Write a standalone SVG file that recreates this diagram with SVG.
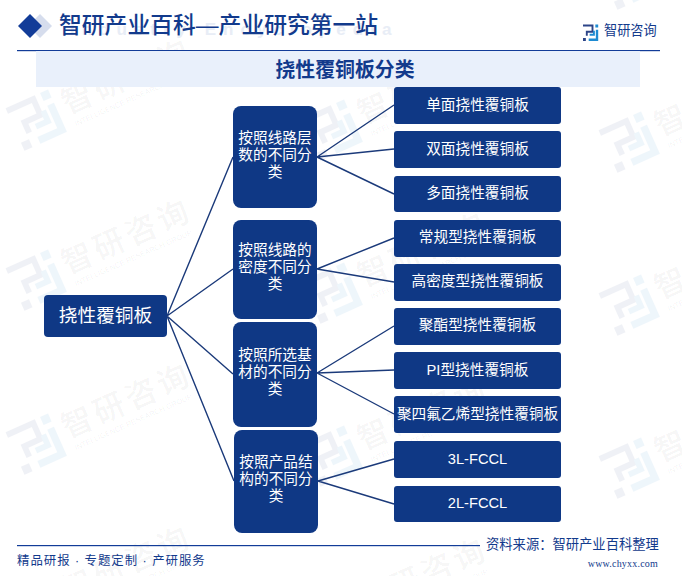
<svg xmlns="http://www.w3.org/2000/svg" width="682" height="576" viewBox="0 0 682 576">
<style>
text{font-family:"Liberation Sans","Noto Sans CJK SC",sans-serif}
.n{fill:#0F3885}
.t{fill:#fff;font-size:14.67px;text-anchor:middle}
.c{fill:none;stroke:#1B3A7A;stroke-width:1.4}
.h{fill:#123A8C}
.wt{font-size:31px;fill:#000;fill-opacity:.055;letter-spacing:3.8px;font-weight:500}
.we{font-size:7.5px;fill:#000;fill-opacity:.055}
.ld{fill:#2C4488}
.ll{fill:#1E8BD2}
</style>
<defs>
<g id="mark">
<path class="ld" d="M0 0H11V8H5V11H3V6H9V2H0ZM0 13h3v3H0z"/>
<path class="ll" d="M13 0h3v3h-3zM13.500 5H16V16H6V13.500H13.500ZM7 9h3.500V6H12.500V11H7Z"/>
</g>
<g id="wm">
<g transform="rotate(-24)">
<use href="#mark" transform="translate(-23 -23) scale(2.9)" opacity=".07"/>
<text class="wt" x="31" y="8">智研咨询</text>
<text class="we" x="34" y="22">INTELLIGENCE RESEARCH GROUP</text>
</g>
</g>
</defs>
<rect width="682" height="576" fill="#fff"/>
<g id="watermarks">
<use href="#wm" x="36" y="120"/><use href="#wm" x="36" y="280"/><use href="#wm" x="36" y="444"/><use href="#wm" x="36" y="607"/>
<use href="#wm" x="332" y="130"/><use href="#wm" x="332" y="293"/><use href="#wm" x="332" y="456"/><use href="#wm" x="332" y="619"/>
<use href="#wm" x="629" y="-21"/><use href="#wm" x="629" y="142"/><use href="#wm" x="629" y="305"/><use href="#wm" x="629" y="468"/>
</g>
<g id="header">
<path d="M40 14l12 12-12 12-12-12z" fill="#D6DDED"/>
<path d="M30 14l12 12-12 12-12-12z" fill="#123C98"/>
<text x="70" y="35" font-size="17" letter-spacing="7" font-weight="700" fill="#E8EDF6">Industry Encyclopedia</text>
<text class="h" x="59" y="33" font-size="22.8" font-weight="500">智研产业百科—产业研究第一站</text>
<use href="#mark" transform="translate(583 24.500) scale(.95 1.03)"/>
<text class="h" x="604" y="35" font-size="13.200">智研咨询</text>
<rect x="17" y="50" width="643" height="1.2" fill="#123C98"/>
<rect x="36" y="51" width="604" height="36" fill="#E9F0FB"/>
<text class="h" x="345" y="77" font-size="19.900" font-weight="700" text-anchor="middle">挠性覆铜板分类</text>
</g>
<g id="connectors">
<path class="c" d="M167 316L233 157M167 316L233 269M167 316L233 374M167 316L234 481"/>
<path class="c" d="M317 157L394 105M317 157L394 149M317 157L394 194"/>
<path class="c" d="M317 269L394 238M317 269L394 282"/>
<path class="c" d="M317 373L394 326M317 373L394 370M317 373L394 414"/>
<path class="c" d="M318 481L394 459M318 481L394 504"/>
</g>
<g id="root"><rect class="n" x="44" y="295" width="123" height="42" rx="4"/><text class="t" style="font-size:18.67px" x="105.500" y="322">挠性覆铜板</text></g>
<g id="cat1"><rect class="n" x="233" y="106" width="84" height="102" rx="8"/><text class="t" x="275" y="143">按照线路层</text><text class="t" x="275" y="160">数的不同分</text><text class="t" x="275" y="177">类</text></g>
<g id="cat2"><rect class="n" x="233" y="220" width="84" height="99" rx="8"/><text class="t" x="275" y="255">按照线路的</text><text class="t" x="275" y="272">密度不同分</text><text class="t" x="275" y="289">类</text></g>
<g id="cat3"><rect class="n" x="233" y="322" width="84" height="105" rx="8"/><text class="t" x="275" y="360">按照所选基</text><text class="t" x="275" y="377">材的不同分</text><text class="t" x="275" y="394">类</text></g>
<g id="cat4"><rect class="n" x="234" y="430" width="84" height="103" rx="8"/><text class="t" x="276" y="467">按照产品结</text><text class="t" x="276" y="484">构的不同分</text><text class="t" x="276" y="501">类</text></g>
<g id="leaf1"><rect class="n" x="394" y="87" width="167" height="37" rx="3"/><text class="t" x="477.500" y="110">单面挠性覆铜板</text></g>
<g id="leaf2"><rect class="n" x="394" y="131" width="167" height="37" rx="3"/><text class="t" x="477.500" y="154">双面挠性覆铜板</text></g>
<g id="leaf3"><rect class="n" x="394" y="176" width="167" height="36" rx="3"/><text class="t" x="477.500" y="198">多面挠性覆铜板</text></g>
<g id="leaf4"><rect class="n" x="394" y="220" width="167" height="37" rx="3"/><text class="t" x="477.500" y="242">常规型挠性覆铜板</text></g>
<g id="leaf5"><rect class="n" x="394" y="264" width="167" height="37" rx="3"/><text class="t" x="477.500" y="286">高密度型挠性覆铜板</text></g>
<g id="leaf6"><rect class="n" x="394" y="308" width="167" height="37" rx="3"/><text class="t" x="477.500" y="330">聚酯型挠性覆铜板</text></g>
<g id="leaf7"><rect class="n" x="394" y="352" width="167" height="37" rx="3"/><text class="t" x="477.500" y="375">PI型挠性覆铜板</text></g>
<g id="leaf8"><rect class="n" x="394" y="396" width="167" height="37" rx="3"/><text class="t" x="477.500" y="419">聚四氟乙烯型挠性覆铜板</text></g>
<g id="leaf9"><rect class="n" x="394" y="441" width="167" height="37" rx="3"/><text class="t" x="477.500" y="464">3L-FCCL</text></g>
<g id="leaf10"><rect class="n" x="394" y="486" width="167" height="36" rx="3"/><text class="t" x="477.500" y="508">2L-FCCL</text></g>
<g id="footer">
<rect x="17" y="545" width="463" height="1.2" fill="#123C98"/>
<text class="h" x="17" y="565" font-size="12.4" letter-spacing="1">精品研报 · 专题定制 · 产研服务</text>
<text class="h" x="486" y="549" font-size="13.300">资料来源：智研产业百科整理</text>
<text class="h" x="658" y="567" font-size="10" text-anchor="end" letter-spacing="0.2" style="font-family:'Liberation Serif',serif">www.chyxx.com</text>
</g>
</svg>
